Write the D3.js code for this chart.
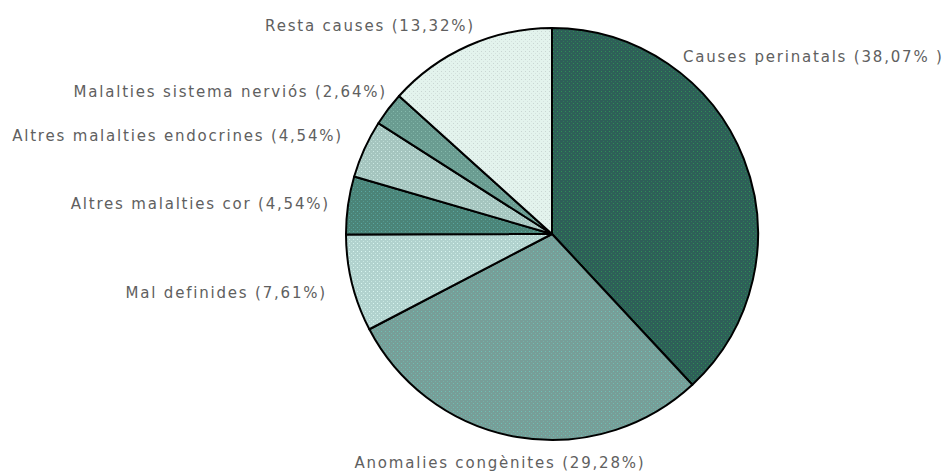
<!DOCTYPE html>
<html>
<head>
<meta charset="utf-8">
<script src="https://cdn.jsdelivr.net/npm/d3@7"></script>
<style>
body { margin: 0; background: #fff; }
.lbl { font-family: "DejaVu Sans", Arial, sans-serif; font-size: 15px; fill: #606060; letter-spacing: 1.8px; }
</style>
</head>
<body>
<svg id="mysvg" width="949" height="474"></svg>
<script>
// slices, clockwise from 12 o'clock
var causes = ["Causes perinatals", "Anomalies congènites", "Mal definides", "Altres malalties cor",
	"Altres malalties endocrines", "Malalties sistema nerviós", "Resta causes"];
var percents = [38.07, 29.28, 7.61, 4.54, 4.54, 2.64, 13.32];
var labelText = ["Causes perinatals (38,07% )", "Anomalies congènites (29,28%)", "Mal definides (7,61%)",
	"Altres malalties cor (4,54%)", "Altres malalties endocrines (4,54%)",
	"Malalties sistema nerviós (2,64%)", "Resta causes (13,32%)"];

// look: base colour, dot colour
var baseCol = ["#2e5f58", "#779e98", "#b1d2ce", "#4b8478", "#a5c5bf", "#6a9c91", "#e3f3ed"];
var dotCol  = ["#2f8f55", "#6fc0b4", "#d8f6f0", "#5aa8a2", "#cbe9e3", "#86bbad", "#c9d6d3"];
// where each label sits (x, baseline y, anchor)
var labelPos = [[683, 62, "start"], [500, 468, "middle"], [327, 298, "end"], [330, 209, "end"],
	[343, 141, "end"], [387, 97, "end"], [475, 31, "end"]];

var cx = 552, cy = 234, r = 206;

function draw () {
	var svg = d3.select("#mysvg");
	var defs = svg.append("defs");

	for (var i = 0 ; i < causes.length ; ++i) {
		var pat = defs.append("pattern")
			.attr("id", "pat" + i)
			.attr("patternUnits", "userSpaceOnUse")
			.attr("width", 4)
			.attr("height", 4);
		pat.append("rect").attr("width", 4).attr("height", 4).attr("fill", baseCol[i]);
		pat.append("rect").attr("x", 1).attr("y", 1).attr("width", 1).attr("height", 1).attr("fill", dotCol[i]);
		pat.append("rect").attr("x", 3).attr("y", 3).attr("width", 1).attr("height", 1).attr("fill", dotCol[i]).attr("opacity", 0.6);
	}

	var pie = d3.pie().sort(null).value(function (d) { return d; });
	var arc = d3.arc().innerRadius(0).outerRadius(r);

	var g = svg.append("g").attr("transform", "translate(" + cx + "," + cy + ")");
	g.selectAll("path.slice")
		.data(pie(percents))
		.enter()
		.append("path")
		.attr("class", "slice")
		.attr("d", arc)
		.attr("fill", function (d, i) { return "url(#pat" + i + ")"; })
		.attr("stroke", "#000")
		.attr("stroke-width", 2)
		.attr("stroke-linejoin", "round");

	svg.selectAll("text.lbl")
		.data(labelText)
		.enter()
		.append("text")
		.attr("class", "lbl")
		.attr("x", function (d, i) { return labelPos[i][0]; })
		.attr("y", function (d, i) { return labelPos[i][1]; })
		.attr("text-anchor", function (d, i) { return labelPos[i][2]; })
		.text(function (d) { return d; });
}

draw();
</script>
</body>
</html>
